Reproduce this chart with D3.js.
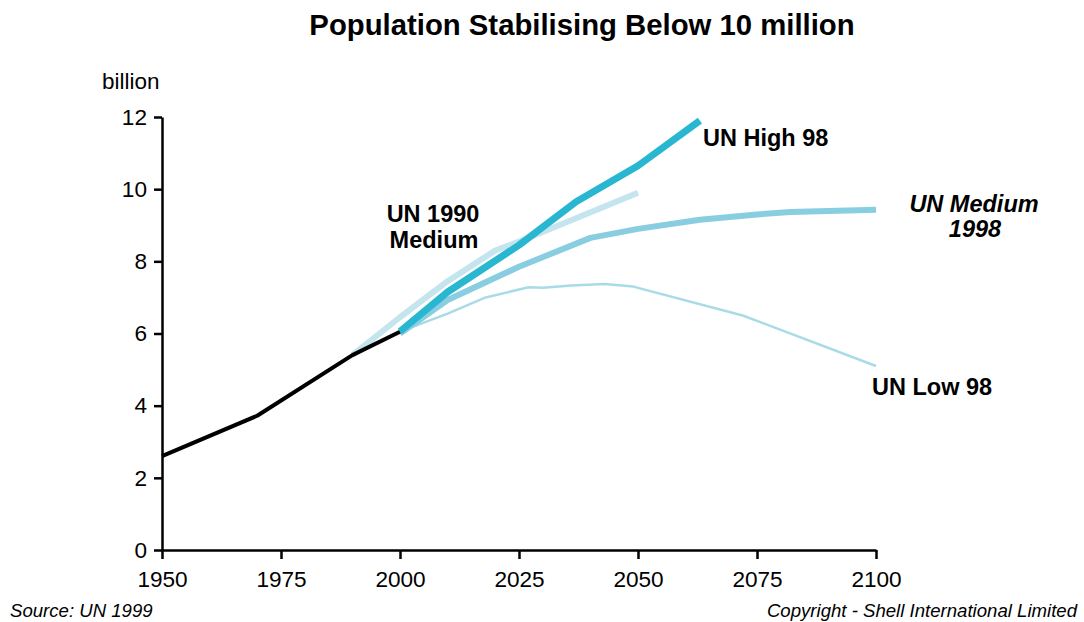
<!DOCTYPE html>
<html>
<head>
<meta charset="utf-8">
<script src="https://cdn.jsdelivr.net/npm/d3@7"></script>
<style>
  body { margin: 0; background: #fff; }
  svg { display: block; font-family: "Liberation Sans", Arial, sans-serif; }
</style>
</head>
<body>
<div id="chart"></div>
<script>
// values (year, billion)
const historical = [[1950, 2.6], [1970, 3.72], [1990, 5.4], [2000, 6.05]];
const un1990Medium = [[1990, 5.4], [2000, 6.45], [2010, 7.45], [2020, 8.3], [2026, 8.6], [2050, 9.9]];
const unMedium98 = [[2000, 6.0], [2010, 6.93], [2025, 7.85], [2040, 8.65], [2050, 8.9], [2063, 9.15], [2075, 9.3], [2082, 9.37], [2100, 9.43]];
const unLow98 = [[2000, 6.05], [2010, 6.55], [2018, 7.0], [2027, 7.28], [2030, 7.27], [2036, 7.33], [2043, 7.37], [2049, 7.3], [2072, 6.5], [2100, 5.1]];
const unHigh98 = [[2000, 6.06], [2010, 7.15], [2025, 8.45], [2037, 9.65], [2050, 10.65], [2063, 11.9]];
const xTicks = [1950, 1975, 2000, 2025, 2050, 2075, 2100];
const yTicks = [0, 2, 4, 6, 8, 10, 12];

const W = 1084, H = 622;
const svg = d3.select('#chart').append('svg').attr('width', W).attr('height', H);

const x = d3.scaleLinear().domain([1950, 2100]).range([162, 876]);
const y = d3.scaleLinear().domain([0, 12]).range([550, 117]);

svg.append('text').attr('x', 582).attr('y', 35).attr('text-anchor', 'middle')
  .attr('font-size', 29.3).attr('font-weight', 'bold').text('Population Stabilising Below 10 million');

svg.append('text').attr('x', 102).attr('y', 89).attr('font-size', 22.5).text('billion');

const line = d3.line().x(d => x(d[0])).y(d => y(d[1]));
const series = [
  { data: un1990Medium, color: '#c4e5ee', width: 6 },
  { data: unLow98, color: '#a9dbe7', width: 2.5 },
  { data: unMedium98, color: '#88cee0', width: 6 },
  { data: historical, color: '#000', width: 4 },
  { data: unHigh98, color: '#28b6d1', width: 7 }
];
svg.selectAll('.series').data(series).enter().append('path')
  .attr('class', 'series')
  .attr('d', d => line(d.data))
  .attr('fill', 'none')
  .attr('stroke', d => d.color)
  .attr('stroke-width', d => d.width)
  .attr('stroke-linejoin', 'round');

const xAxis = svg.append('g').attr('transform', `translate(0,${y(0)})`)
  .call(d3.axisBottom(x).tickValues(xTicks).tickFormat(d3.format('d')).tickSize(9).tickSizeOuter(0).tickPadding(12));
const yAxis = svg.append('g').attr('transform', `translate(${x(1950)},0)`)
  .call(d3.axisLeft(y).tickValues(yTicks).tickSize(8).tickSizeOuter(0).tickPadding(7));
[xAxis, yAxis].forEach(a => {
  a.select('.domain').attr('stroke', '#000').attr('stroke-width', 2.5);
  a.selectAll('.tick line').attr('stroke', '#000').attr('stroke-width', 2.5);
  a.selectAll('text').attr('fill', '#000').attr('font-size', 22.6).attr('font-family', '"Liberation Sans", Arial, sans-serif');
});

const labels = [
  { t: 'UN High 98', x: 703, y: 146, anchor: 'start', italic: false },
  { t: 'UN 1990', x: 433, y: 222, anchor: 'middle', italic: false },
  { t: 'Medium', x: 434, y: 248, anchor: 'middle', italic: false },
  { t: 'UN Medium', x: 974, y: 212, anchor: 'middle', italic: true },
  { t: '1998', x: 975, y: 237, anchor: 'middle', italic: true },
  { t: 'UN Low 98', x: 872, y: 395, anchor: 'start', italic: false }
];
svg.selectAll('.lbl').data(labels).enter().append('text')
  .attr('class', 'lbl')
  .attr('x', d => d.x).attr('y', d => d.y)
  .attr('text-anchor', d => d.anchor)
  .attr('font-size', 23.5).attr('font-weight', 'bold')
  .attr('font-style', d => d.italic ? 'italic' : 'normal')
  .text(d => d.t);

svg.append('text').attr('x', 10).attr('y', 617).attr('font-size', 18.6).attr('font-style', 'italic').text('Source: UN 1999');
svg.append('text').attr('x', 1077).attr('y', 617).attr('text-anchor', 'end').attr('font-size', 18.6).attr('font-style', 'italic')
  .text('Copyright - Shell International Limited');
</script>
</body>
</html>
